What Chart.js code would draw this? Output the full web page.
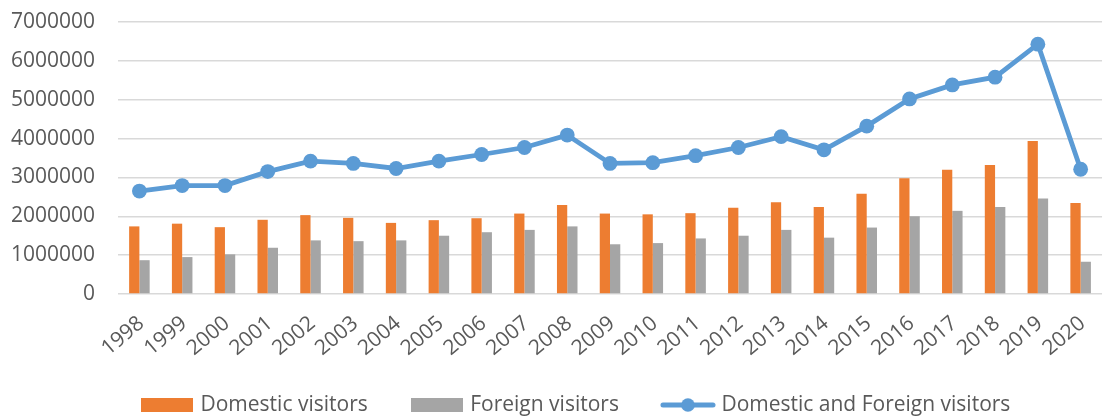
<!DOCTYPE html>
<html>
<head>
<meta charset="utf-8">
<script src="https://cdn.jsdelivr.net/npm/chart.js@4/dist/chart.umd.min.js"></script>
<style>
  html, body { margin: 0; padding: 0; background: #ffffff; overflow: hidden; }
  #wrap { width: 1112px; height: 417px; overflow: hidden; position: relative; }
  canvas { display: block; }
</style>
</head>
<body>
<div id="wrap"><canvas id="c" width="1114" height="417"></canvas></div>
<script>
const years = ['1998','1999','2000','2001','2002','2003','2004','2005','2006','2007','2008','2009','2010','2011','2012','2013','2014','2015','2016','2017','2018','2019','2020'];
const domesticVisitors = [1740000, 1810000, 1720000, 1910000, 2030000, 1960000, 1830000, 1900000, 1950000, 2070000, 2290000, 2070000, 2050000, 2080000, 2220000, 2360000, 2240000, 2580000, 2980000, 3200000, 3320000, 3940000, 2340000];
const foreignVisitors = [870000, 950000, 1020000, 1190000, 1380000, 1360000, 1380000, 1500000, 1590000, 1650000, 1740000, 1280000, 1310000, 1430000, 1500000, 1650000, 1450000, 1710000, 2000000, 2140000, 2240000, 2460000, 830000];
const totalVisitors = [2650000, 2790000, 2790000, 3150000, 3420000, 3360000, 3230000, 3420000, 3590000, 3770000, 4090000, 3360000, 3380000, 3560000, 3770000, 4050000, 3710000, 4320000, 5020000, 5380000, 5580000, 6430000, 3210000];
const yTicks = [0, 1000000, 2000000, 3000000, 4000000, 5000000, 6000000, 7000000];

const ORANGE = '#ED7D31', GRAY = '#A5A5A5', BLUE = '#5B9BD5', TEXT = '#595959';
const FONT = "'Open Sans', 'DejaVu Sans', sans-serif";

function rectImg(color) {
  const c = document.createElement('canvas');
  c.width = 52; c.height = 14;
  const g = c.getContext('2d');
  g.fillStyle = color; g.fillRect(0, 0, 52, 14);
  return c;
}
function lineImg(color) {
  const c = document.createElement('canvas');
  c.width = 56; c.height = 16;
  const g = c.getContext('2d');
  g.strokeStyle = color; g.lineWidth = 5; g.lineCap = 'round';
  g.beginPath(); g.moveTo(3, 8); g.lineTo(53, 8); g.stroke();
  g.fillStyle = color; g.beginPath(); g.arc(28, 8, 6.8, 0, Math.PI * 2); g.fill();
  return c;
}
const legendImgs = [rectImg(ORANGE), rectImg(GRAY), lineImg(BLUE)];

const legendPlace = {
  id: 'legendPlace',
  afterLayout(chart) {
    const lg = chart.legend;
    if (!lg) return;
    const pad = lg.options.labels.padding;
    const fs = lg.options.labels.font.size;
    lg.left = 144 - pad;
    lg.right = 1400;
    lg.top = 405 - pad - fs / 2;
  }
};

new Chart(document.getElementById('c'), {
  type: 'bar',
  data: {
    labels: years,
    datasets: [
      { type: 'bar', label: 'Domestic visitors', data: domesticVisitors, backgroundColor: ORANGE, borderWidth: 0, categoryPercentage: 0.48, barPercentage: 1.0, order: 2 },
      { type: 'bar', label: 'Foreign visitors', data: foreignVisitors, backgroundColor: GRAY, borderWidth: 0, categoryPercentage: 0.48, barPercentage: 1.0, order: 3 },
      { type: 'line', label: 'Domestic and Foreign visitors', data: totalVisitors, borderColor: BLUE, backgroundColor: BLUE, borderWidth: 4.8, pointRadius: 7.4, pointHoverRadius: 7.4, pointBorderWidth: 0, tension: 0, fill: false, order: 1 }
    ]
  },
  options: {
    responsive: false,
    animation: false,
    devicePixelRatio: 1,
    layout: { padding: { top: 22, left: 0, right: 0, bottom: 0 } },
    plugins: {
      tooltip: { enabled: false },
      legend: {
        position: 'bottom',
        align: 'start',
        maxHeight: 48,
        labels: {
          usePointStyle: true,
          pointStyleWidth: 46,
          padding: 46,
          color: TEXT,
          font: { family: FONT, size: 21 },
          sort: (a, b) => a.datasetIndex - b.datasetIndex,
          generateLabels(chart) {
            const items = Chart.defaults.plugins.legend.labels.generateLabels(chart);
            items.forEach(it => { it.pointStyle = legendImgs[it.datasetIndex]; it.fontColor = TEXT; it.lineWidth = 0; });
            return items;
          }
        }
      }
    },
    scales: {
      x: {
        grid: { display: false, drawTicks: false },
        border: { display: false },
        ticks: { color: TEXT, font: { family: FONT, size: 21 }, minRotation: 40, maxRotation: 40, autoSkip: false, padding: 17, labelOffset: 2 },
        afterFit(scale) { scale.height = 75; }
      },
      y: {
        min: 0,
        max: 7000000,
        afterBuildTicks(scale) { scale.ticks = yTicks.map(v => ({ value: v })); },
        grid: { color: '#D9D9D9', lineWidth: 1.5, drawTicks: true, tickLength: 23, tickColor: 'rgba(0,0,0,0)' },
        border: { display: false },
        ticks: { color: TEXT, font: { family: FONT, size: 21 }, padding: 0, callback: v => String(v) },
        afterFit(scale) { scale.width = 118; }
      }
    }
  },
  plugins: [legendPlace]
});
</script>
</body>
</html>
